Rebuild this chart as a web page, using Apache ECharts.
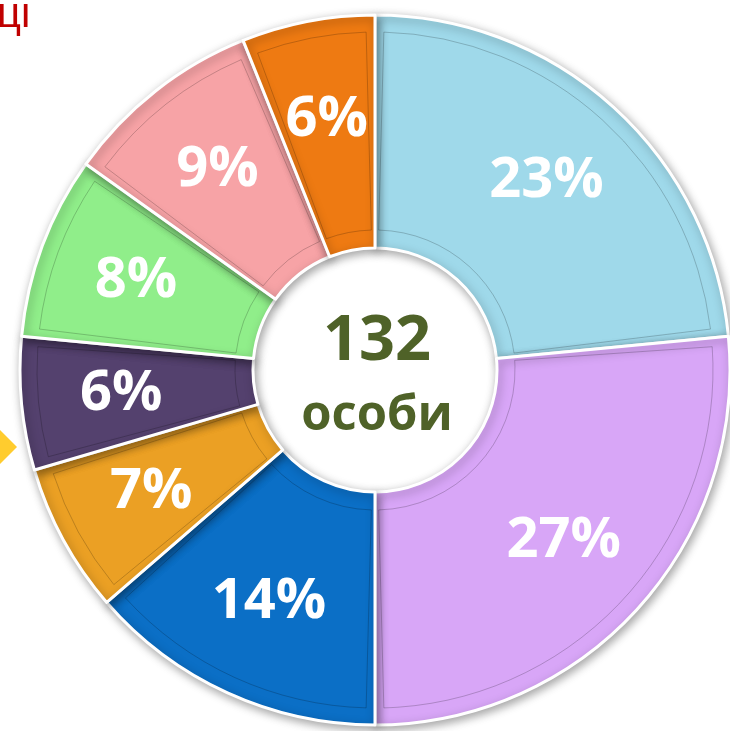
<!DOCTYPE html>
<html>
<head>
<meta charset="utf-8">
<script src="https://cdn.jsdelivr.net/npm/echarts@6/dist/echarts.min.js"></script>
<style>
html,body{margin:0;padding:0;background:#fff;}
#chart{width:730px;height:731px;}
</style>
</head>
<body>
<div id="chart"></div>
<script>
// Data: persons per group (total 132), clockwise from 12 o'clock
const categories = ['A', 'B', 'C', 'D', 'E', 'F', 'G', 'H'];
const values = [31, 35, 18, 9, 8, 11, 12, 8];
const sliceColors = ['#9fd9ea', '#d8a6f7', '#0b6fc6', '#eba024', '#54416e', '#90ee8a', '#f7a3a6', '#ee7a12'];
const totalLabel = '132';
const unitLabel = 'особи';

const chart = echarts.init(document.getElementById('chart'));
const center = [375, 370];

const mainData = categories.map((c, i) => ({
  name: c,
  value: values[i],
  itemStyle: { color: sliceColors[i] }
}));
const frameData = categories.map((c, i) => ({ name: c, value: values[i] }));

chart.setOption({
  animation: false,
  backgroundColor: '#ffffff',
  series: [
    {
      type: 'pie',
      center: center,
      radius: [122, 355],
      startAngle: 90,
      clockwise: true,
      itemStyle: {
        borderColor: '#ffffff',
        borderWidth: 3,
        shadowBlur: 10,
        shadowColor: 'rgba(0,0,0,0.35)',
        shadowOffsetX: 2,
        shadowOffsetY: 3
      },
      label: { show: false },
      labelLine: { show: false },
      emphasis: { disabled: true },
      data: mainData,
      z: 2
    },
    {
      type: 'pie',
      center: center,
      radius: [140, 338],
      startAngle: 90,
      clockwise: true,
      padAngle: 3,
      silent: true,
      itemStyle: {
        color: 'rgba(255,255,255,0)',
        borderColor: 'rgba(0,0,0,0.2)',
        borderWidth: 1
      },
      label: { show: false },
      labelLine: { show: false },
      data: frameData,
      z: 3
    },
    {
      type: 'pie',
      center: center,
      radius: [150, 354],
      startAngle: 90,
      clockwise: true,
      percentPrecision: 0,
      silent: true,
      itemStyle: { color: 'rgba(255,255,255,0)', borderWidth: 0 },
      label: {
        show: true,
        position: 'inner',
        formatter: '{d}%',
        color: '#ffffff',
        fontFamily: 'Open Sans',
        fontWeight: 'bold',
        fontSize: 56
      },
      labelLine: { show: false },
      data: frameData,
      z: 4
    }
  ],
  graphic: [
    {
      type: 'text',
      left: -3, top: -6,
      style: { text: 'ці', fill: '#c00000', font: '42px "Liberation Sans"' }
    },
    {
      type: 'polygon',
      shape: { points: [[-2, 428], [17, 447], [-2, 466], [-21, 447]] },
      style: { fill: '#ffcc2e' }
    },
    {
      type: 'text',
      x: 377, y: 342,
      style: {
        text: totalLabel, fill: '#4f6228', font: 'bold 63px "Open Sans"',
        textAlign: 'center', textVerticalAlign: 'middle'
      },
      z: 10
    },
    {
      type: 'text',
      x: 377, y: 416,
      style: {
        text: unitLabel, fill: '#4f6228', font: 'bold 49px "Open Sans"',
        textAlign: 'center', textVerticalAlign: 'middle'
      },
      z: 10
    }
  ]
});
</script>
</body>
</html>
